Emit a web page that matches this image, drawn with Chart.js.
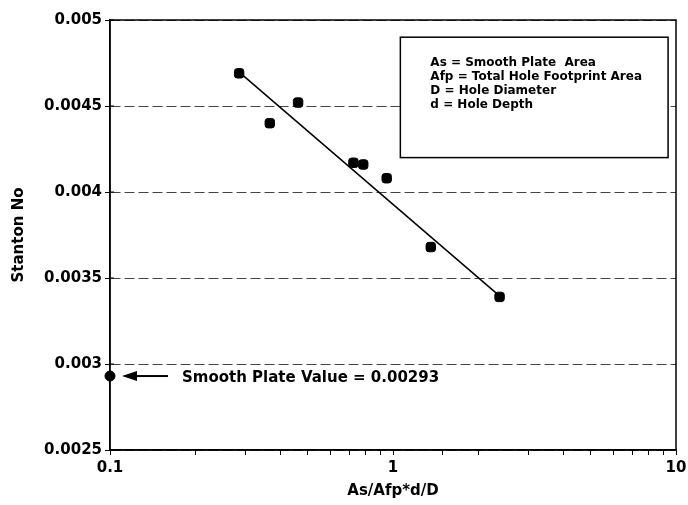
<!DOCTYPE html>
<html>
<head>
<meta charset="utf-8">
<script src="https://cdn.jsdelivr.net/npm/chart.js@4/dist/chart.umd.min.js"></script>
<style>
  html, body { margin: 0; padding: 0; background: #ffffff; }
  #wrap { width: 688px; height: 505px; }
</style>
</head>
<body>
<div id="wrap"><canvas id="c" width="688" height="505"></canvas></div>
<script>
// ---- data ----
const xValues = [0.286, 0.367, 0.462, 0.725, 0.785, 0.95, 1.36, 2.38];
const yValues = [0.00469, 0.00440, 0.00452, 0.00417, 0.00416, 0.00408, 0.00368, 0.00339];
const trendX = [0.28, 2.4];
const trendY = [0.00471, 0.00339];
const smoothX = [0.1];
const smoothY = [0.00293];
const smoothLabel = "Smooth Plate Value = 0.00293";
const yTickLabels = ["0.0025", "0.003", "0.0035", "0.004", "0.0045", "0.005"];
const xTickLabels = { "0.1": "0.1", "1": "1", "10": "10" };
const legendLines = [
  "As = Smooth Plate  Area",
  "Afp = Total Hole Footprint Area",
  "D = Hole Diameter",
  "d = Hole Depth"
];
const xTitle = "As/Afp*d/D";
const yTitle = "Stanton No";

const FONT = "'DejaVu Sans', 'Liberation Sans', Arial, sans-serif";

const pts = xValues.map((x, i) => ({ x: x, y: yValues[i] }));
const trend = trendX.map((x, i) => ({ x: x, y: trendY[i] }));
const smooth = smoothX.map((x, i) => ({ x: x, y: smoothY[i] }));

const framePlugin = {
  id: 'frame',
  afterDraw(chart) {
    const ctx = chart.ctx;
    const a = chart.chartArea;
    ctx.save();
    ctx.strokeStyle = '#000';
    ctx.lineWidth = 1.5;
    ctx.strokeRect(a.left, a.top, a.right - a.left, a.bottom - a.top);

    // inner half of y ticks (ticks cross the axis)
    const ys = chart.scales.y;
    ctx.lineWidth = 1;
    ys.ticks.forEach(t => {
      const py = ys.getPixelForValue(t.value);
      ctx.beginPath();
      ctx.moveTo(a.left, py);
      ctx.lineTo(a.left + 4, py);
      ctx.stroke();
    });

    // arrow and annotation for smooth plate value
    const xs = chart.scales.x;
    const px = xs.getPixelForValue(smoothX[0]);
    const py = ys.getPixelForValue(smoothY[0]);
    const tip = px + 12, base = px + 27, tail = px + 58;
    ctx.fillStyle = '#000';
    ctx.beginPath();
    ctx.moveTo(tip, py);
    ctx.lineTo(base, py - 5);
    ctx.lineTo(base, py + 5);
    ctx.closePath();
    ctx.fill();
    ctx.lineWidth = 2;
    ctx.beginPath();
    ctx.moveTo(base, py);
    ctx.lineTo(tail, py);
    ctx.stroke();
    ctx.font = "bold 15px " + FONT;
    ctx.textBaseline = 'middle';
    ctx.textAlign = 'left';
    ctx.fillText(smoothLabel, px + 72, py + 2);

    // legend / definitions box
    const w = a.right - a.left, h = a.bottom - a.top;
    const bx = a.left + w * 0.513, by = a.top + h * 0.04;
    const bw = w * 0.473, bh = h * 0.28;
    ctx.lineWidth = 1.5;
    ctx.fillStyle = '#fff';
    ctx.fillRect(bx, by, bw, bh);
    ctx.strokeRect(bx, by, bw, bh);
    ctx.fillStyle = '#000';
    ctx.font = "bold 12px " + FONT;
    legendLines.forEach((s, i) => {
      ctx.fillText(s, bx + 30, by + 26 + i * 13.8);
    });
    ctx.restore();
  }
};

new Chart(document.getElementById('c'), {
  type: 'scatter',
  data: {
    datasets: [
      {
        label: 'data',
        data: pts,
        pointStyle: 'rectRounded',
        pointRadius: 5.5,
        pointHoverRadius: 5.5,
        backgroundColor: '#000',
        borderColor: '#000',
        showLine: false
      },
      {
        label: 'trend',
        type: 'line',
        data: trend,
        borderColor: '#000',
        borderWidth: 1.5,
        pointRadius: 0,
        fill: false
      },
      {
        label: 'smooth',
        data: smooth,
        pointStyle: 'circle',
        pointRadius: 5,
        backgroundColor: '#000',
        borderColor: '#000',
        clip: false
      }
    ]
  },
  options: {
    responsive: false,
    animation: false,
    events: [],
    layout: { padding: { left: 0, right: 12, top: 20, bottom: 0 } },
    plugins: {
      legend: { display: false },
      tooltip: { enabled: false }
    },
    scales: {
      x: {
        type: 'logarithmic',
        position: 'bottom',
        min: 0.1,
        max: 10,
        afterFit(s) { s.height = 55; s.paddingRight = 0; s.paddingLeft = 0; },
        grid: {
          drawOnChartArea: false,
          drawTicks: true,
          tickLength: 5,
          tickColor: '#000',
          color: '#000'
        },
        border: { display: true, color: '#000', width: 1.5 },
        ticks: {
          autoSkip: false,
          maxRotation: 0,
          padding: 4,
          color: '#000',
          font: { family: FONT, size: 15, weight: 'bold' },
          callback(v) {
            const key = String(Math.round(v * 1000) / 1000);
            return xTickLabels[key] !== undefined ? xTickLabels[key] : '';
          }
        },
        title: {
          display: true,
          text: xTitle,
          color: '#000',
          font: { family: FONT, size: 15, weight: 'bold' },
          padding: { top: 0, bottom: 5 }
        }
      },
      y: {
        type: 'linear',
        min: 0.0025,
        max: 0.005,
        afterFit(s) { s.width = 110; },
        grid: {
          drawOnChartArea: true,
          drawTicks: true,
          tickLength: 5,
          tickColor: '#000',
          color: '#444',
          lineWidth: 1
        },
        border: { display: true, color: '#000', width: 1.5, dash: [10, 4] },
        ticks: {
          stepSize: 0.0005,
          padding: 3,
          color: '#000',
          font: { family: FONT, size: 15, weight: 'bold' },
          callback(v, i) { return yTickLabels[i]; }
        },
        title: {
          display: true,
          text: yTitle,
          color: '#000',
          font: { family: FONT, size: 15, weight: 'bold' },
          padding: { top: 10, bottom: 0 }
        }
      }
    }
  },
  plugins: [framePlugin]
});
</script>
</body>
</html>
